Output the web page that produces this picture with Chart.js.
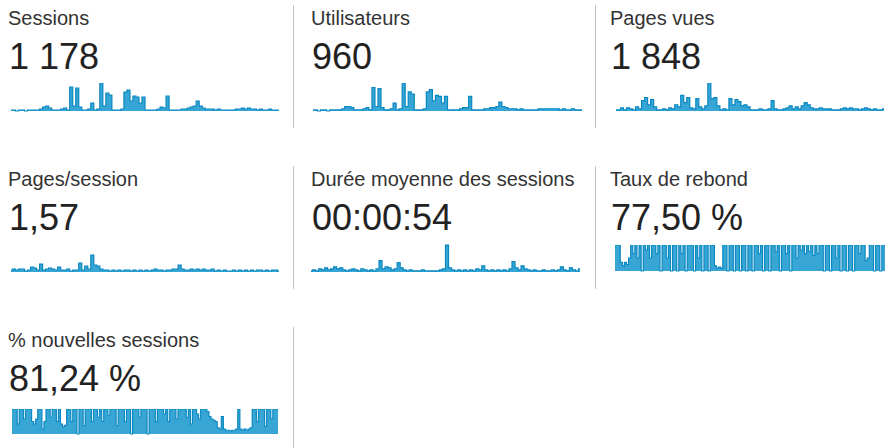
<!DOCTYPE html>
<html><head><meta charset="utf-8">
<script src="https://cdn.jsdelivr.net/npm/chart.js@4"></script>
<style>
html,body{margin:0;padding:0;background:#fff;width:888px;height:448px;overflow:hidden;font-family:"Liberation Sans",Arial,sans-serif;}
.t{position:absolute;font-size:20px;line-height:20px;color:#333;white-space:nowrap}
.v{position:absolute;font-size:36px;line-height:36px;color:#222;white-space:nowrap}
.d{position:absolute;width:1px;background:#c4c4c4}
.c{position:absolute}
</style></head><body>
<script>
// ---- data ----
const titles = ["Sessions","Utilisateurs","Pages vues","Pages/session","Durée moyenne des sessions","Taux de rebond","% nouvelles sessions"];
const totals = ["1 178","960","1 848","1,57","00:00:54","77,50 %","81,24 %"];

const sessions = [1,1,0,1,1,0,1,1,1,1, 2,4,5,3,1,1,1,2,3,1, 24,5,23,4,1,1,2,8,1,2,
  28,5,18,16,1,1,1,2,19,21, 10,15,14,8,14,1,1,1,1,2, 4,3,15,1,1,1,1,2,2,3,
  4,5,10,5,3,2,2,2,1,2, 1,1,1,1,1,2,2,3,2,3, 2,2,1,2,1,1,2,1,1,1];
const utilisateurs = [1,1,0,1,1,0,1,1,1,1, 2,4,4,3,1,1,1,2,3,1, 21,4,20,3,1,1,2,7,1,2,
  25,4,17,15,1,1,1,2,17,19, 9,14,13,7,13,1,1,1,1,2, 3,3,13,1,1,1,1,2,2,3,
  3,4,8,4,3,2,2,2,1,2, 1,1,1,1,1,2,2,2,2,2, 2,2,1,2,1,1,2,1,1,1];
const pagesVues = [1,1,3,1,3,2,1,4,2,10, 13,6,11,4,1,1,2,1,3,2, 6,4,15,8,13,3,2,12,4,2,
  5,27,12,13,5,1,2,1,12,6, 11,9,5,6,4,1,1,1,2,1, 1,2,10,2,1,1,2,3,5,2,
  4,2,5,8,6,3,2,2,3,2, 2,2,1,1,1,2,3,2,3,2, 2,1,2,3,2,1,2,1,1,2];
const pagesParSession = [2,3,2,3,3,1,2,5,4,2, 8,2,3,4,3,2,5,2,2,3, 1,2,2,9,2,6,3,17,7,6,
  3,2,2,1,2,1,2,1,2,2, 1,2,1,2,1,2,1,2,3,2, 2,1,2,2,3,3,7,3,2,2,
  3,2,3,2,3,2,2,3,1,2, 1,2,1,1,2,1,2,1,2,1, 2,1,2,2,1,2,1,2,2,1];
const dureeMoyenne = [1,2,1,3,2,4,2,3,5,3, 4,2,1,2,3,2,1,3,2,1, 2,1,3,11,3,5,4,2,3,9,
  4,2,1,2,1,1,1,2,1,1, 1,1,1,2,3,26,4,2,1,2, 1,2,1,2,1,3,2,6,2,1,
  2,1,2,1,2,1,3,10,4,2, 6,3,2,1,2,1,1,2,1,1, 2,1,2,5,2,1,4,2,1,3];
const tauxRebond = [100,100,100,33,20,33,25,50,100,67, 100,50,100,0,100,80,100,50,100,100,
  67,100,0,100,100,50,100,0,100,100, 0,100,67,100,0,100,100,100,0,100,
  50,100,0,100,100,0,100,100,20,10, 15,10,100,100,0,100,100,0,100,100,
  0,100,100,0,100,100,0,100,100,67, 100,0,100,100,0,100,100,75,100,0,
  100,100,67,100,0,100,100,50,100,80, 100,67,100,75,100,60,100,67,100,100,
  0,100,100,0,100,100,50,100,0,100, 100,0,100,100,0,100,100,67,100,100,
  40,50,100,100,0,100,100,0,100,100];
const nouvellesSessions = [100,100,100,40,100,100,60,100,100,100, 50,40,60,100,100,20,50,100,100,67,
  100,100,50,100,40,30,35,100,100,50, 100,100,0,100,100,33,100,100,100,50,
  100,100,67,100,50,100,100,75,100,100, 100,33,100,100,100,50,100,100,0,100,
  100,100,67,100,100,100,0,100,100,100, 50,100,100,100,80,100,50,100,100,100,
  60,100,100,100,100,67,100,40,100,100, 80,60,100,100,100,90,70,60,55,50,
  25,20,70,20,15,15,12,15,15,20, 100,20,15,20,15,20,25,100,100,50,
  100,100,100,30,100,100,60,100,100,100];

const seriesList = [sessions, utilisateurs, pagesVues, pagesParSession, dureeMoyenne, tauxRebond, nouvellesSessions];
const axisMax = [28, 25, 27, 28, 27, 100, 100];

// ---- layout ----
// [textLeft, rowTop, chartLeft, chartTop, chartWidth, chartHeight]
const layout = [
  [8, 0, 11, 83, 268, 29],
  [311, 0, 313, 83, 269, 29],
  [610, 0, 616, 83, 268, 29],
  [8, 161, 11, 244, 268, 29],
  [311, 161, 311, 244, 269, 29],
  [610, 161, 615, 245, 270, 27],
  [8, 322, 12, 409, 266, 26]
];
const dividers = [[293,5,123],[595,5,123],[293,166,123],[595,166,123],[293,327,121]];

dividers.forEach(([x,y,h])=>{
  const d=document.createElement('div'); d.className='d';
  d.style.left=x+'px'; d.style.top=y+'px'; d.style.height=h+'px';
  document.body.appendChild(d);
});

titles.forEach((title, k)=>{
  const [tl, rt, cl, ct, cw, ch] = layout[k];
  const t=document.createElement('div'); t.className='t'; t.textContent=title;
  t.style.left=tl+'px'; t.style.top=(rt+8)+'px'; document.body.appendChild(t);
  const v=document.createElement('div'); v.className='v'; v.textContent=totals[k];
  v.style.left=(tl+1)+'px'; v.style.top=(rt+39)+'px'; document.body.appendChild(v);
  const cv=document.createElement('canvas'); cv.className='c';
  cv.width=cw; cv.height=ch; cv.style.left=cl+'px'; cv.style.top=ct+'px';
  cv.style.width=cw+'px'; cv.style.height=ch+'px';
  document.body.appendChild(cv);
  const data = seriesList[k];
  new Chart(cv.getContext('2d'), {
    type:'line',
    data:{labels:data.map((_,i)=>i), datasets:[{data:data, borderColor:'#0a88c2', borderWidth:1.2,
      backgroundColor:'rgba(20,150,205,0.85)', fill:'origin', pointRadius:0, stepped:'middle', clip:false}]},
    options:{responsive:false, animation:false, events:[],
      layout:{padding:{top:0,bottom:1,left:0,right:0}},
      plugins:{legend:{display:false}, tooltip:{enabled:false}},
      scales:{x:{display:false, offset:false}, y:{display:false, min:0, max:axisMax[k]}}}
  });
});
</script>
</body></html>
